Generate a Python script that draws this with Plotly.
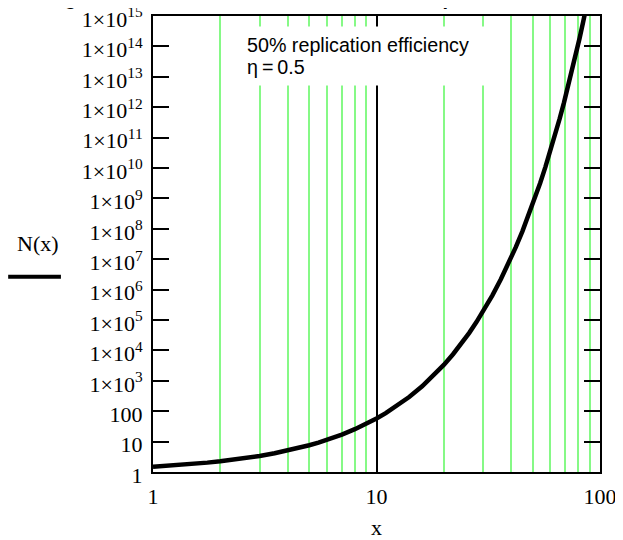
import plotly.graph_objects as go

# Data: N(x) for 50% replication efficiency
x_vals = [1, 1.25, 1.5, 1.75, 2, 2.5, 3, 3.5, 4, 4.5, 5, 5.5, 6, 7, 8, 9, 10,
          11, 12, 13, 14, 16, 18, 20, 22, 24, 26, 28, 30, 33, 36, 39, 42, 45,
          48, 51, 54, 57, 60, 63, 66, 69, 72, 75, 78, 81, 84, 87, 90]
n_vals = [1.5, 1.660, 1.837, 2.033, 2.25, 2.756, 3.375, 4.134, 5.0625, 6.200,
          7.594, 9.300, 11.39, 17.09, 25.63, 38.44, 57.67, 86.50, 129.7, 194.6,
          291.9, 656.8, 1478, 3325, 7482, 1.683e4, 3.788e4, 8.523e4, 1.918e5,
          6.472e5, 2.184e6, 7.372e6, 2.488e7, 8.397e7, 2.834e8, 9.565e8,
          3.228e9, 1.089e10, 3.677e10, 1.241e11, 4.188e11, 1.413e12, 4.771e12,
          1.610e13, 5.434e13, 1.834e14, 6.190e14, 2.089e15, 7.050e15]

y_tickvals = [1, 10, 100] + [10 ** k for k in range(3, 16)]
y_ticktext = ["1", "10", "100"] + ["1×10<sup>%d</sup>" % k for k in range(3, 16)]
x_tickvals = [1, 10, 100]
x_ticktext = ["1", "10", "100"]
x_minor = [2, 3, 4, 5, 6, 7, 8, 9, 20, 30, 40, 50, 60, 70, 80, 90]

serif = "Liberation Serif"
sans = "Liberation Sans"
green = "#86f986"

fig = go.Figure()
fig.add_trace(go.Scatter(x=x_vals, y=n_vals, mode="lines",
                         line=dict(color="black", width=4.5), showlegend=False))

# invisible trace carrying the minor-grid axis
fig.add_trace(go.Scatter(x=[x_vals[0]], y=[n_vals[0]], xaxis="x2", mode="markers",
                         marker=dict(opacity=0), showlegend=False, hoverinfo="skip"))

# page body has an 8px margin, so the figure is sized/offset to compensate
fig.update_layout(
    width=615, height=532,
    margin=dict(l=145, r=23, t=8, b=68, autoexpand=False),
    paper_bgcolor="white", plot_bgcolor="white",
    font=dict(family=serif, size=22, color="black"),
    xaxis=dict(
        type="log", range=[0, 2],
        tickvals=x_tickvals, ticktext=x_ticktext,
        ticks="", showgrid=True, gridcolor="black", gridwidth=1.5,
        showline=True, linecolor="black", linewidth=2, mirror=True,
        tickfont=dict(family=serif, size=22),
        ticklabelstandoff=4, ticklabeloverflow="allow",
        title=dict(text="x", font=dict(family=serif, size=22), standoff=13),
        zeroline=False, automargin=False,
    ),
    xaxis2=dict(
        type="log", range=[0, 2], overlaying="x", side="bottom",
        tickvals=x_minor, showticklabels=False, ticks="",
        showgrid=True, gridcolor=green, gridwidth=2,
        showline=False, zeroline=False, automargin=False,
    ),
    yaxis=dict(
        type="log", range=[0, 15],
        tickvals=y_tickvals, ticktext=y_ticktext,
        ticks="inside", ticklen=16, tickwidth=2, tickcolor="black",
        showgrid=False,
        showline=True, linecolor="black", linewidth=2, mirror="ticks",
        tickfont=dict(family=serif, size=22),
        ticklabelstandoff=4, ticklabeloverflow="allow", ticklabelshift=3,
        zeroline=False, automargin=False,
    ),
)

# cut-off title at the top
fig.add_annotation(
    text="<b>Log of the DNA count after x rounds of amplification</b>",
    xref="paper", yref="paper", x=-0.257, y=1.011, xanchor="left", yanchor="bottom",
    showarrow=False, font=dict(family=sans, size=20, color="black"),
)

# white region behind the label (covers the grid lines)
fig.add_annotation(
    text=" ", xref="paper", yref="paper", x=0.1946, y=0.978,
    xanchor="left", yanchor="top", showarrow=False,
    bgcolor="white", borderpad=0, width=260, height=58,
    font=dict(family=sans, size=10),
)

# in-plot label
fig.add_annotation(
    text="50% replication efficiency",
    xref="paper", yref="paper", x=0.2081, y=0.936, xanchor="left", yanchor="middle",
    showarrow=False, borderpad=0,
    font=dict(family=sans, size=19.7, color="black"),
)
fig.add_annotation(
    text="η\u2009=\u20090.5",
    xref="paper", yref="paper", x=0.2081, y=0.888, xanchor="left", yanchor="middle",
    showarrow=False, borderpad=0,
    font=dict(family=sans, size=19.7, color="black"),
)

# y-axis legend label
fig.add_annotation(
    text="N(x)", xref="paper", yref="paper", x=-0.257, y=0.469,
    xanchor="center", yanchor="bottom", showarrow=False,
    font=dict(family=serif, size=22, color="black"),
)
fig.add_shape(type="line", xref="paper", yref="paper",
              x0=-0.324, x1=-0.206, y0=0.428, y1=0.428,
              line=dict(color="black", width=4))

fig.write_html("out.html")
